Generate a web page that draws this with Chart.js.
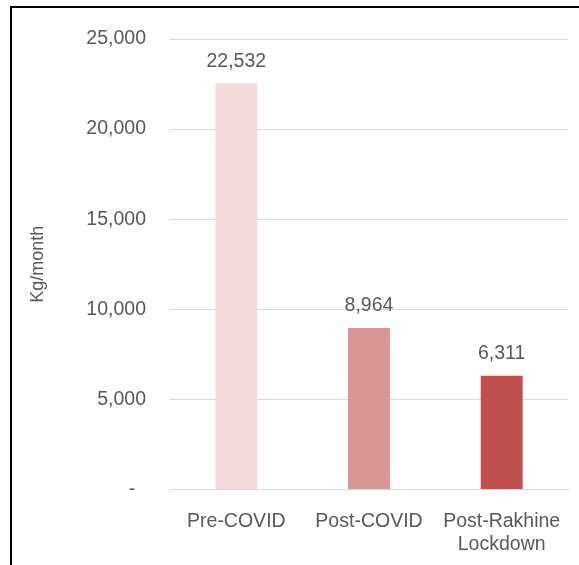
<!DOCTYPE html>
<html>
<head>
<meta charset="utf-8">
<script src="https://cdn.jsdelivr.net/npm/chart.js@4"></script>
<style>
  html, body { margin: 0; padding: 0; background: #fff; }
  #wrap { position: relative; width: 579px; height: 565px; overflow: hidden; }
  #frame { position: absolute; left: 10px; top: 6px; width: 600px; height: 600px;
           border-top: 2px solid #000; border-left: 2px solid #000; box-sizing: border-box; }
  canvas { position: absolute; left: 0; top: 0; }
</style>
</head>
<body>
<div id="wrap">
  <div id="frame"></div>
  <canvas id="chart" width="579" height="565"></canvas>
</div>
<script>
// Monthly volume by period
const categories = ['Pre-COVID', 'Post-COVID', ['Post-Rakhine', 'Lockdown']];
const volumes = [22532, 8964, 6311];
const barColors = ['#F2DCDB', '#DA9694', '#C0504D'];
const yTicks = [0, 5000, 10000, 15000, 20000, 25000];

const FONT = '"Liberation Sans", Arial, sans-serif';
const TEXT = '#595959';

function fmt(v) {
  return v === 0 ? '-  ' : v.toLocaleString('en-US');
}

// Value labels above each bar
const valueLabels = {
  id: 'valueLabels',
  afterDatasetsDraw(chart) {
    const ctx = chart.ctx;
    const meta = chart.getDatasetMeta(0);
    ctx.save();
    ctx.font = '19.5px ' + FONT;
    ctx.fillStyle = TEXT;
    ctx.textAlign = 'center';
    ctx.textBaseline = 'middle';
    meta.data.forEach((bar, i) => {
      ctx.fillText(fmt(chart.data.datasets[0].data[i]), bar.x, bar.y - 22);
    });
    ctx.restore();
  }
};

new Chart(document.getElementById('chart'), {
  type: 'bar',
  data: {
    labels: categories,
    datasets: [{
      data: volumes,
      backgroundColor: barColors,
      borderWidth: 0,
      barPercentage: 0.316,
      categoryPercentage: 1
    }]
  },
  options: {
    responsive: false,
    animation: false,
    devicePixelRatio: 1,
    layout: { padding: { left: 27, right: 11, top: 39, bottom: 0 } },
    plugins: { legend: { display: false }, tooltip: { enabled: false } },
    scales: {
      x: {
        grid: { display: false },
        border: { display: true, color: '#D9D9D9', width: 1 },
        ticks: { color: TEXT, font: { family: FONT, size: 19.5 }, padding: 12, maxRotation: 0, autoSkip: false },
        afterFit(s) { s.height = 75.5; }
      },
      y: {
        min: 0,
        max: 25000,
        afterBuildTicks(s) { s.ticks = yTicks.map(v => ({ value: v })); },
        grid: { color: '#D9D9D9', lineWidth: 1, drawTicks: false },
        border: { display: false },
        ticks: {
          color: TEXT,
          font: { family: FONT, size: 19.5 },
          padding: 24,
          callback: v => fmt(v)
        },
        title: {
          display: true,
          text: 'Kg/month',
          color: TEXT,
          font: { family: FONT, size: 18 },
          padding: { top: 0, bottom: 0 }
        },
        afterFit(s) { s.width = 143; }
      }
    }
  },
  plugins: [valueLabels]
});
</script>
</body>
</html>
